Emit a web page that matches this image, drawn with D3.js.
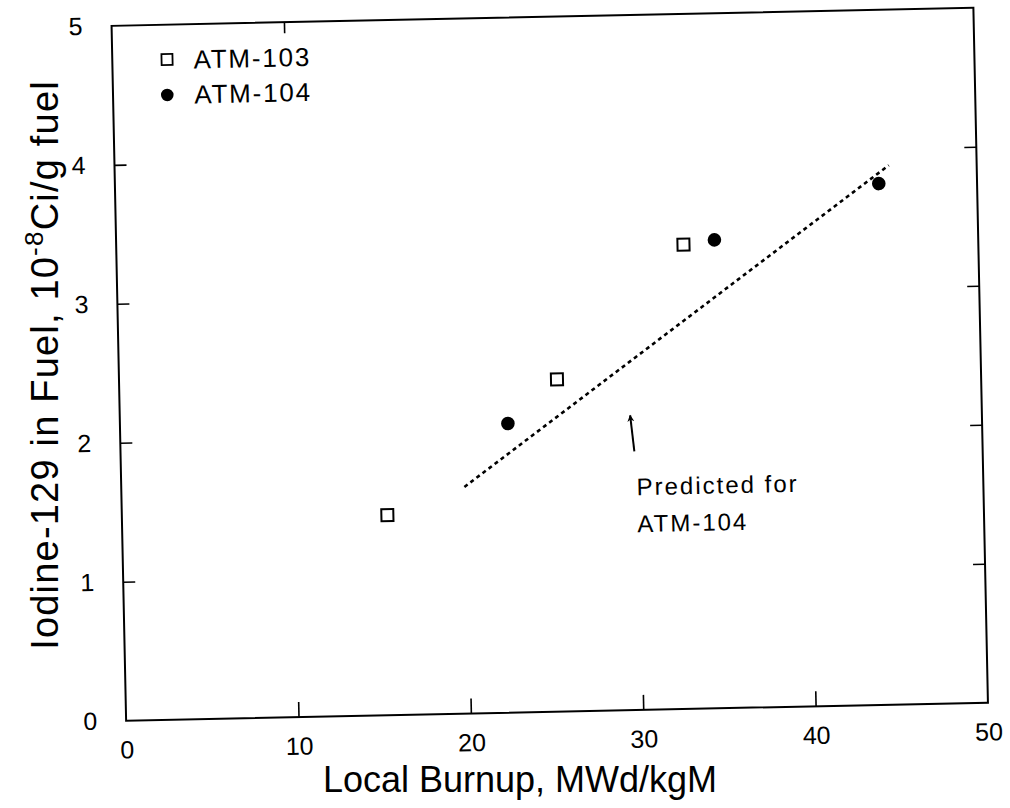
<!DOCTYPE html>
<html>
<head>
<meta charset="utf-8">
<script src="https://cdn.jsdelivr.net/npm/d3@7"></script>
<style>
  html, body { margin: 0; padding: 0; background: #fff; }
  svg { display: block; }
  text { font-family: "Liberation Sans", Arial, Helvetica, sans-serif; fill: #000; }
</style>
</head>
<body>
<svg id="chart" width="1010" height="808"></svg>
<script>
// ---- data ----
const xTicks = [0, 10, 20, 30, 40, 50];
const yTicks = [0, 1, 2, 3, 4, 5];
const seriesNames = ["ATM-103", "ATM-104"];
const atm103X = [15.4, 25.4, 32.9];
const atm103Y = [1.44, 2.39, 3.34];
const atm104X = [22.5, 34.7, 44.3];
const atm104Y = [2.08, 3.37, 3.75];
const predictedX = [19.9, 44.9];
const predictedY = [1.63, 3.88];
const arrowX = [29.8, 29.6];
const arrowY = [1.86, 2.12];
const annotationLines = ["Predicted for", "ATM-104"];
const xTitle = "Local Burnup, MWd/kgM";

// ---- layout ----
const L = 118.75, R = 980.75, T = 16.75, B = 711.75;
const svg = d3.select("#chart");
const x = d3.scaleLinear().domain([0, 50]).range([L, R]);
const y = d3.scaleLinear().domain([0, 5]).range([B, T]);

const defs = svg.append("defs");
defs.append("marker").attr("id", "ah").attr("viewBox", "0 0 10 10")
  .attr("refX", 9).attr("refY", 5).attr("markerWidth", 14).attr("markerHeight", 7)
  .attr("markerUnits", "userSpaceOnUse").attr("orient", "auto")
  .append("path").attr("d", "M0,0 L10,5 L0,10 L3,5 Z").attr("fill", "#000");

// scanned page is slightly tilted
const g = svg.append("g").attr("transform", "rotate(-1.2, 550, 364)");

// frame
g.append("rect").attr("x", L).attr("y", T).attr("width", R - L).attr("height", B - T)
  .attr("fill", "none").attr("stroke", "#000").attr("stroke-width", 2);

function styleAxis(sel) {
  sel.attr("font-size", null).attr("font-family", null);
  sel.select(".domain").remove();
  sel.selectAll(".tick line").attr("stroke", "#000").attr("stroke-width", 1.6);
  sel.selectAll(".tick text").attr("font-size", 25).attr("fill", "#000");
}

// bottom axis
g.append("g").attr("transform", `translate(0,${B})`)
  .call(d3.axisBottom(x).tickValues(xTicks).tickSizeInner(-15).tickSizeOuter(0).tickPadding(20).tickFormat(d3.format("d")))
  .call(styleAxis)
  .call(s => s.selectAll(".tick").filter(d => d === 0 || d === 50).select("line").remove());

// left axis
g.append("g").attr("transform", `translate(${L},0)`)
  .call(d3.axisLeft(y).tickValues(yTicks).tickSizeInner(-12).tickSizeOuter(0).tickPadding(29).tickFormat(d3.format("d")))
  .call(styleAxis)
  .call(s => s.selectAll(".tick").filter(d => d === 0 || d === 5).select("line").remove());

// right axis (ticks only)
g.append("g").attr("transform", `translate(${R},0)`)
  .call(d3.axisRight(y).tickValues(yTicks.slice(1, 5)).tickSizeInner(-12).tickSizeOuter(0).tickFormat(""))
  .call(styleAxis);

// top axis (tick only)
g.append("g").attr("transform", `translate(0,${T})`)
  .call(d3.axisTop(x).tickValues(xTicks.slice(1, 2)).tickSizeInner(-11).tickSizeOuter(0).tickFormat(""))
  .call(styleAxis);

// predicted line
const predData = predictedX.map((d, i) => [d, predictedY[i]]);
g.append("path").datum(predData)
  .attr("d", d3.line().x(d => x(d[0])).y(d => y(d[1])))
  .attr("fill", "none").attr("stroke", "#000").attr("stroke-width", 2.6)
  .attr("stroke-dasharray", "4,3.6");

// ATM-103 open squares
const s103 = atm103X.map((d, i) => [d, atm103Y[i]]);
const sq = 12;
g.selectAll(".sq").data(s103).join("rect").attr("class", "sq")
  .attr("x", d => x(d[0]) - sq / 2).attr("y", d => y(d[1]) - sq / 2)
  .attr("width", sq).attr("height", sq)
  .attr("fill", "#fff").attr("stroke", "#000").attr("stroke-width", 2);

// ATM-104 filled circles
const s104 = atm104X.map((d, i) => [d, atm104Y[i]]);
g.selectAll(".ci").data(s104).join("circle").attr("class", "ci")
  .attr("cx", d => x(d[0])).attr("cy", d => y(d[1])).attr("r", 6.8).attr("fill", "#000");

// arrow
g.append("line")
  .attr("x1", x(arrowX[0])).attr("y1", y(arrowY[0]))
  .attr("x2", x(arrowX[1])).attr("y2", y(arrowY[1]))
  .attr("stroke", "#000").attr("stroke-width", 2).attr("marker-end", "url(#ah)");

// annotation
const ann = g.append("text").attr("x", 634).attr("y", 497)
  .attr("font-size", 24).attr("letter-spacing", 2);
annotationLines.forEach((t, i) => {
  ann.append("tspan").attr("x", 634).attr("dy", i === 0 ? 0 : 37).text(t);
});

// legend
const lg = g.append("g");
lg.append("rect").attr("x", 168).attr("y", 46).attr("width", 11).attr("height", 11)
  .attr("fill", "#fff").attr("stroke", "#000").attr("stroke-width", 1.8);
lg.append("circle").attr("cx", 173).attr("cy", 87).attr("r", 6.3).attr("fill", "#000");
lg.selectAll("text.lt").data(seriesNames).join("text").attr("class", "lt")
  .attr("x", 200).attr("y", (d, i) => 61 + i * 35)
  .attr("font-size", 26).attr("letter-spacing", 1.8).text(d => d);

// axis titles (not tilted)
svg.append("text").attr("x", 520).attr("y", 792).attr("text-anchor", "middle")
  .attr("font-size", 36).text(xTitle);

const yt = svg.append("text").attr("transform", "translate(58,365) rotate(-90)")
  .attr("text-anchor", "middle").attr("font-size", 38).attr("letter-spacing", 1.2);
yt.append("tspan").text("Iodine-129 in Fuel, 10");
yt.append("tspan").attr("dy", -15).attr("font-size", 26).text("-8");
yt.append("tspan").attr("dy", 15).text("Ci/g fuel");
</script>
</body>
</html>
